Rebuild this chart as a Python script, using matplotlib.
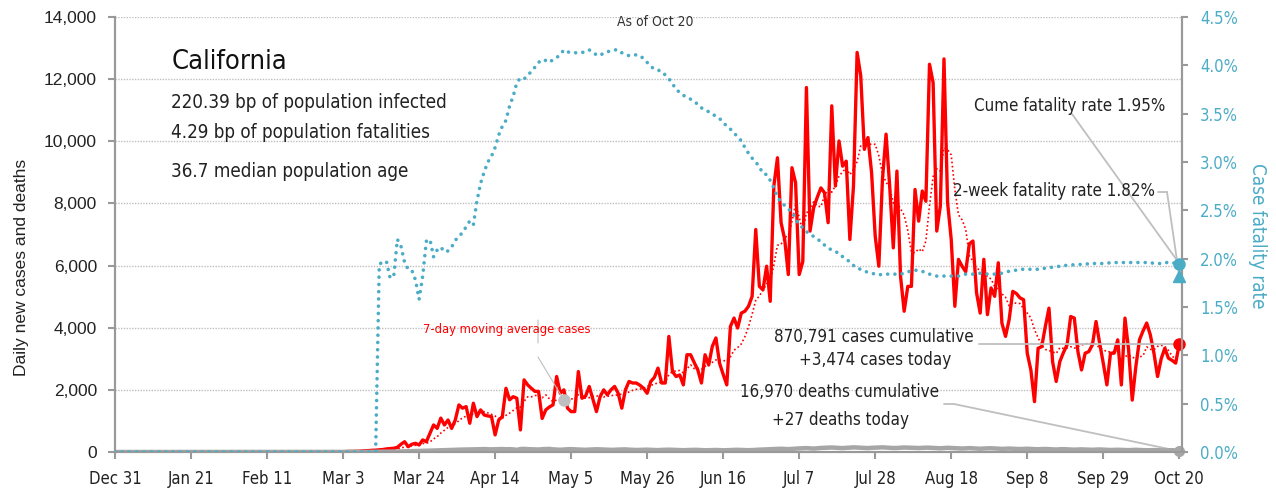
import numpy as np
import pandas as pd
import matplotlib
matplotlib.use('Agg')
import matplotlib.pyplot as plt

plt.rcParams['font.family'] = ['Liberation Sans Narrow', 'DejaVu Sans']
plt.rcParams['font.stretch'] = 'condensed'

# data (daily values from Mar 1 to Oct 20, 2020)
start = '2020-03-01'
cases_from_mar1 = [
    5, 10, 10, 15, 20, 20, 25, 30, 40, 45, 55, 60, 70, 80, 100, 110,
    120, 150, 250, 330, 170, 250, 280, 225, 390, 330,
    600, 870, 760, 1090, 870, 1030, 760, 1030, 1516, 1410,
    1460, 925, 1570, 1140, 1355, 1190, 1160, 1140, 550, 1030,
    1140, 2050, 1680, 1780, 1730, 710, 2320, 2160, 2050, 1950,
    1950, 1080, 1355, 1450, 1516, 2430, 1890, 2000, 1410, 1300,
    1300, 2590, 1730, 1800, 2110, 1700, 1300, 1780, 2000, 1840,
    2000, 2110, 1890, 1410, 2000, 2270, 2220, 2220, 2150, 2050,
    1890, 2270, 2400, 2700, 2220, 2220, 3720, 2590, 2430, 2480,
    2160, 3130, 3130, 2880, 2640, 2220, 3130, 2800, 3400, 3670,
    2860, 2500, 2160, 4040, 4310, 3990, 4470, 4530, 4690, 5010,
    7160, 5330, 5220, 5980, 4850, 8560, 9470, 7380, 6840, 5710,
    9150, 8670, 5710, 6130, 11730, 7110, 7860, 8200, 8500, 8340,
    7380, 11140, 8560, 10010, 9200, 9360, 6840, 8560, 12860, 12110,
    9740, 10120, 8990, 6950, 5980, 8770, 10230, 8560, 6570, 9040,
    5650, 4530, 5330, 5330, 8450, 7430, 8400, 8070, 12480, 11890,
    7110, 7920, 12650, 8020, 6840, 4690, 6200, 5980, 5800, 6700,
    6790, 5120, 4470, 6200, 4420, 5280, 5010, 6090, 4150, 3720,
    4260, 5170, 5100, 4960, 4900, 3180, 2640, 1620, 3340, 3390,
    4040, 4630, 2910, 2270, 2910, 3200, 3450, 4360, 4310, 3230,
    2640, 3180, 3230, 3450, 4200, 3500, 2860, 2160, 3180, 3180,
    3610, 2160, 4310, 3290, 1670, 2750, 3610, 3900, 4150, 3770,
    3180, 2430, 3000, 3340, 3020, 2950, 2860, 3474,
]
deaths_from_mar1 = [
    0, 0, 0, 1, 1, 1, 2, 2, 3, 4, 4, 5, 6, 7, 8, 10,
    12, 15, 18, 20, 22, 25, 28, 30, 35, 40,
    45, 48, 52, 55, 60, 65, 70, 72, 75, 78,
    80, 85, 82, 88, 90, 95, 88, 85, 90, 92,
    95, 88, 90, 85, 70, 95, 100, 92, 88, 85,
    80, 90, 95, 100, 85, 78, 72, 80, 88, 92,
    85, 80, 75, 70, 78, 82, 88, 85, 80, 75,
    70, 72, 78, 80, 85, 75, 70, 65, 68, 72,
    75, 70, 65, 60, 68, 72, 75, 70, 65, 60,
    58, 62, 65, 70, 68, 60, 55, 58, 62, 65,
    60, 55, 58, 62, 68, 70, 65, 60, 58, 62,
    70, 75, 80, 85, 90, 95, 100, 105, 98, 92,
    100, 110, 115, 120, 125, 118, 110, 120, 130, 135,
    140, 145, 138, 130, 125, 135, 140, 150, 145, 138,
    130, 125, 135, 140, 145, 150, 142, 135, 128, 130,
    138, 145, 140, 135, 130, 128, 135, 140, 138, 130,
    125, 120, 128, 135, 130, 125, 118, 112, 120, 125,
    118, 110, 105, 112, 118, 120, 115, 108, 100, 105,
    110, 105, 98, 95, 100, 105, 98, 92, 88, 95,
    98, 92, 85, 80, 88, 92, 85, 80, 75, 80,
    85, 80, 75, 70, 78, 82, 75, 70, 65, 70,
    72, 68, 65, 60, 65, 70, 65, 60, 55, 58,
    62, 58, 55, 50, 55, 58, 50, 27,
]
# cumulative case fatality rate, % (Mar 1 .. Oct 20)
cfr_from_mar1 = [
    0, 0, 0, 0, 0, 0, 0, 0, 0, 0, 0, 0,
    1.94, 1.97, 1.97, 1.80, 1.82, 2.20, 2.13, 1.96, 1.89, 1.88,
    1.78, 1.58, 1.82, 2.18, 2.20, 2.02, 2.09, 2.12, 2.07, 2.08,
    2.12, 2.19, 2.23, 2.27, 2.33, 2.39, 2.35, 2.60, 2.78, 2.90,
    3.00, 3.06, 3.15, 3.28, 3.37, 3.43, 3.58, 3.68, 3.82, 3.87,
    3.86, 3.89, 3.94, 3.98, 4.03, 4.06, 4.05, 4.03, 4.06, 4.08,
    4.11, 4.16, 4.14, 4.13, 4.13, 4.13, 4.13, 4.15, 4.16, 4.13,
    4.11, 4.10, 4.13, 4.14, 4.15, 4.16, 4.16, 4.13, 4.11, 4.10,
    4.10, 4.11, 4.10, 4.07, 4.03, 3.99, 3.96, 3.95, 3.94, 3.90,
    3.86, 3.81, 3.75, 3.72, 3.69, 3.67, 3.65, 3.62, 3.60, 3.56,
    3.54, 3.52, 3.50, 3.47, 3.45, 3.41, 3.37, 3.34, 3.30, 3.26,
    3.22, 3.15, 3.09, 3.04, 3.00, 2.95, 2.88, 2.87, 2.81, 2.73,
    2.64, 2.58, 2.55, 2.51, 2.49, 2.41, 2.35, 2.32, 2.28, 2.25,
    2.23, 2.20, 2.18, 2.14, 2.11, 2.09, 2.07, 2.06, 2.02, 1.99,
    1.97, 1.93, 1.90, 1.89, 1.87, 1.86, 1.85, 1.84, 1.83, 1.84,
    1.84, 1.84, 1.84, 1.84, 1.84, 1.85, 1.86, 1.88, 1.88, 1.88,
    1.87, 1.85, 1.84, 1.83, 1.82, 1.82, 1.82, 1.82, 1.82, 1.82,
    1.82, 1.83, 1.84, 1.84, 1.84, 1.84, 1.85, 1.85, 1.84, 1.84,
    1.84, 1.84, 1.85, 1.86, 1.87, 1.88, 1.88, 1.89, 1.89, 1.89,
    1.89, 1.89, 1.89, 1.90, 1.90, 1.91, 1.91, 1.92, 1.92, 1.93,
    1.93, 1.93, 1.94, 1.94, 1.94, 1.94, 1.95, 1.95, 1.95, 1.95,
    1.95, 1.95, 1.96, 1.96, 1.96, 1.96, 1.96, 1.96, 1.96, 1.96,
    1.96, 1.96, 1.96, 1.96, 1.95, 1.95, 1.95, 1.96, 1.96, 1.96,
    1.95, 1.95,
]
cume_cfr = 1.95
two_week_cfr = 1.82
cases_total = 870791
deaths_total = 16970

dates = pd.date_range('2019-12-31', '2020-10-20')
n_before = len(pd.date_range('2019-12-31', start)) - 1
cases = pd.Series([0] * n_before + cases_from_mar1, index=dates)
deaths = pd.Series([0] * n_before + deaths_from_mar1, index=dates)
cfr = pd.Series([0] * n_before + cfr_from_mar1, index=dates) / 100
cases_ma = cases.rolling(7, min_periods=1).mean()

RED = '#FF0000'
TEAL = '#4BACC6'
GRAY = '#A6A6A6'
LGRAY = '#BFBFBF'
TXT = '#222222'
W, H = 1276, 493


def fp(x, y):
    # pixel position -> figure fraction
    return (x / W, 1 - y / H)


fig = plt.figure(figsize=(W / 100, H / 100), dpi=100)
ax = fig.add_axes([115 / W, 41 / H, 1067 / W, 435 / H])
ax2 = ax.twinx()

ax.plot(cases.index, cases.values, color=RED, lw=2.4, zorder=3)
ax.plot(cases_ma.index, cases_ma.values, color=RED, lw=1.2, ls=(0, (1, 1.5)), zorder=3)
ax.plot(deaths.index, deaths.values, color=GRAY, lw=3.2, zorder=4)
ax2.plot(cfr.index, cfr.values, color=TEAL, lw=2.6, ls=(0, (0.01, 2.0)),
         dash_capstyle='round', zorder=3)

# end markers
last = dates[-1]
ax.plot([last], [cases.iloc[-1]], 'o', color=RED, ms=8, clip_on=False, zorder=6)
ax.plot([last], [deaths.iloc[-1]], 'o', color=GRAY, ms=7, clip_on=False, zorder=6)
ax2.plot([last], [two_week_cfr / 100], '^', color=TEAL, ms=9, clip_on=False, zorder=6)
ax2.plot([last], [cume_cfr / 100], 'o', color=TEAL, ms=8, clip_on=False, zorder=6)
ma_pt = dates[124]
ax.plot([ma_pt], [cases_ma[ma_pt]], 'o', color=LGRAY, ms=8, zorder=6)

# axes styling
ax.set_xlim(dates[0], last + pd.Timedelta(hours=18))
ax.set_ylim(0, 14000)
ax2.set_ylim(0, 0.045)
ticks = dates[::21]
ax.set_xticks(ticks)
ax.set_xticklabels([f'{d:%b} {d.day}' for d in ticks])
ax.set_yticks(range(0, 14001, 2000))
ax.set_yticklabels([f'{v:,}' for v in range(0, 14001, 2000)],
                   family=['Liberation Sans', 'DejaVu Sans'], stretch='normal')
ax2.set_yticks(np.arange(0, 0.0451, 0.005))
ax2.set_yticklabels([f'{v * 100:.1f}%' for v in np.arange(0, 0.0451, 0.005)])
ax.grid(axis='y', color=LGRAY, ls=(0, (1, 1)), lw=1)
ax.set_axisbelow(True)
for a in (ax, ax2):
    a.spines['top'].set_visible(False)
    for s in ('left', 'right', 'bottom'):
        a.spines[s].set_color('#999999')
        a.spines[s].set_linewidth(1.5)
ax.tick_params(axis='y', colors='#999999', labelcolor=TXT, labelsize=12.5, length=5, width=1.5, pad=8)
ax.tick_params(axis='x', colors='#999999', labelcolor=TXT, labelsize=12, length=5, width=1.5, pad=8)
ax2.tick_params(axis='y', colors='#999999', labelcolor=TEAL, labelsize=12, length=4, width=1.5, pad=9)

# labels
fig.text(*fp(22, 267), 'Daily new cases and deaths', rotation=90, ha='center', va='center',
         family=['Liberation Sans', 'DejaVu Sans'], stretch='normal', fontsize=12.5, color=TXT)
fig.text(*fp(1258, 236), 'Case fatality rate', rotation=270, ha='center', va='center',
         fontsize=13.5, color=TEAL)
fig.text(*fp(655, 22), 'As of Oct 20', ha='center', va='center', fontsize=10, color='#333333')

fig.text(*fp(172, 62), 'California', fontsize=19.5, va='center', color='#111111')
fig.text(*fp(171, 102), '220.39 bp of population infected', fontsize=13.5, va='center', color=TXT)
fig.text(*fp(171, 133), '4.29 bp of population fatalities', fontsize=13.5, va='center', color=TXT)
fig.text(*fp(171, 172), '36.7 median population age', fontsize=13.5, va='center', color=TXT)

fs = 12.2
fig.text(*fp(1165, 106), f'Cume fatality rate {cume_cfr:.2f}%', ha='right', va='center',
         fontsize=fs, color=TXT)
fig.text(*fp(1155, 191), f'2-week fatality rate {two_week_cfr:.2f}%', ha='right', va='center',
         fontsize=fs, color=TXT)
fig.text(*fp(874, 337), f'{cases_total:,} cases cumulative', ha='center', va='center',
         fontsize=fs, color=TXT)
fig.text(*fp(875, 360), f'+{cases.iloc[-1]:,} cases today', ha='center', va='center',
         fontsize=fs, color=TXT)
fig.text(*fp(839, 392), f'{deaths_total:,} deaths cumulative', ha='center', va='center',
         fontsize=fs, color=TXT)
fig.text(*fp(840, 420), f'+{deaths.iloc[-1]:,} deaths today', ha='center', va='center',
         fontsize=fs, color=TXT)
fig.text(*fp(507, 330), '7-day moving average cases', ha='center', va='center',
         fontsize=9.3, color=RED)

# leader lines
lkw = dict(arrowstyle='-', color=LGRAY, lw=1.3, shrinkA=0, shrinkB=0)
ax2.annotate('', xy=(last, cume_cfr / 100), xytext=fp(1072, 114), textcoords='figure fraction',
             arrowprops=lkw, annotation_clip=False)
ax2.annotate('', xy=fp(1158, 192), xycoords='figure fraction', xytext=fp(1167, 192),
             textcoords='figure fraction', arrowprops=lkw)
ax2.annotate('', xy=(last, two_week_cfr / 100), xytext=fp(1167, 192), textcoords='figure fraction',
             arrowprops=lkw, annotation_clip=False)
ax.annotate('', xy=(last, cases.iloc[-1]), xytext=fp(979, 344), textcoords='figure fraction',
            arrowprops=lkw, annotation_clip=False)
ax.annotate('', xy=fp(944, 404), xycoords='figure fraction', xytext=fp(954, 404),
            textcoords='figure fraction', arrowprops=lkw)
ax.annotate('', xy=(last, deaths.iloc[-1]), xytext=fp(954, 404), textcoords='figure fraction',
            arrowprops=lkw, annotation_clip=False)
ax.annotate('', xy=fp(538, 320), xycoords='figure fraction', xytext=fp(538, 343),
            textcoords='figure fraction', arrowprops=dict(lkw, lw=0.8))
ax.annotate('', xy=(ma_pt, cases_ma[ma_pt]), xytext=fp(538, 357), textcoords='figure fraction',
            arrowprops=dict(lkw, lw=0.8))

fig.savefig('out.png', dpi=100)
